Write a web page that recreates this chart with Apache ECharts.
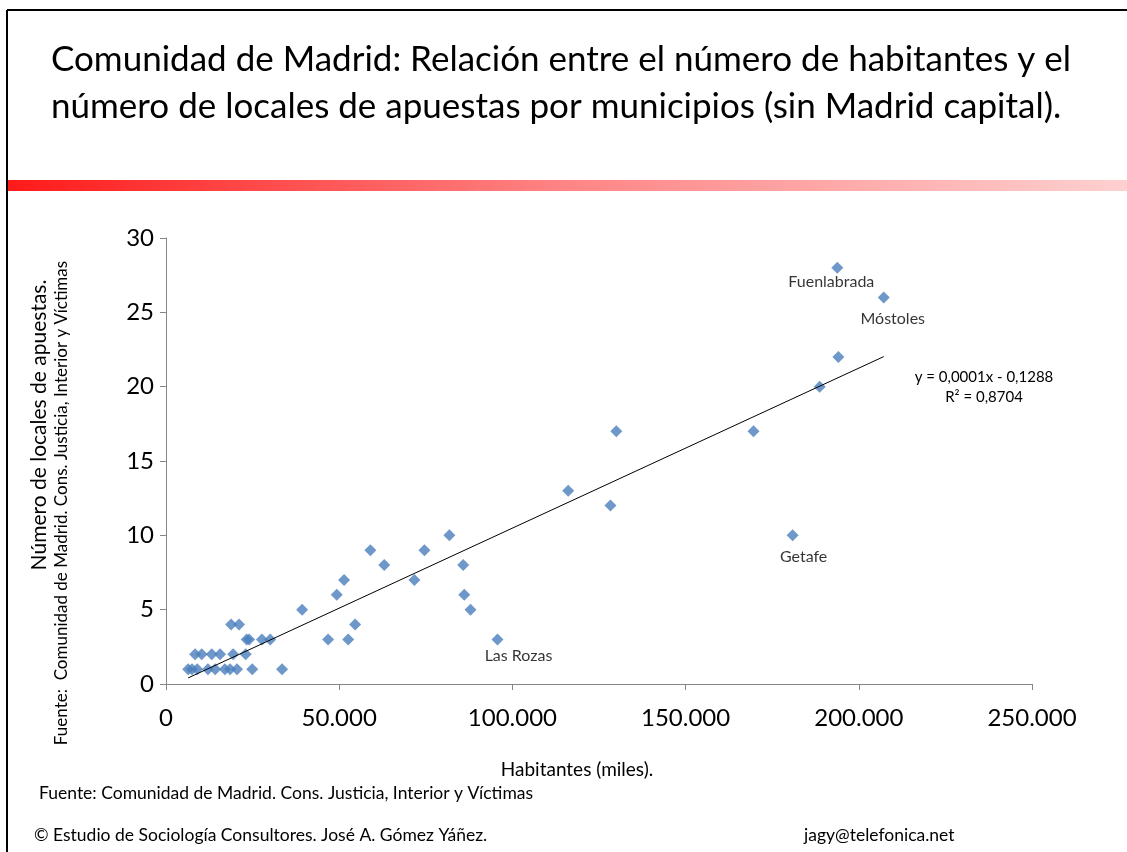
<!doctype html>
<html lang="es">
<head>
    <meta charset="UTF-8">
    <script src="https://cdn.jsdelivr.net/npm/echarts@6/dist/echarts.min.js"></script>
    <title>Locales de apuestas - Comunidad de Madrid</title>
    <style>
        html, body { margin: 0; padding: 0; background: #fff; }
    </style>
</head>
<body>
<div id="main" style="width: 1127px;height:852px;"></div>
<script>
    // habitantes y locales de apuestas por municipio
    var habitantes = [6400, 7500, 9000, 12100, 14200, 17000, 18500, 20500, 24900, 33500,
        8400, 10300, 13200, 15600, 19400, 23000,
        23300, 24000, 27700, 30100, 46800, 52600,
        18800, 21100, 54600,
        39300, 87900,
        49300, 86100,
        51400, 71700,
        63000, 85800,
        59000, 74600,
        81800,
        128300, 116100,
        130000, 169600,
        188700, 194100];
    var locales = [1, 1, 1, 1, 1, 1, 1, 1, 1, 1,
        2, 2, 2, 2, 2, 2,
        3, 3, 3, 3, 3, 3,
        4, 4, 4,
        5, 5,
        6, 6,
        7, 7,
        8, 8,
        9, 9,
        10,
        12, 13,
        17, 17,
        20, 22];

    // municipios con etiqueta
    var nombres = ['Fuenlabrada', 'Móstoles', 'Getafe', 'Las Rozas'];
    var habNombres = [193800, 207200, 180900, 95700];
    var locNombres = [28, 26, 10, 3];

    var xTicks = [0, 50000, 100000, 150000, 200000, 250000];
    var yTicks = [0, 5, 10, 15, 20, 25, 30];

    var FONT = 'Lato';

    function miles(v) {
        return String(v).replace(/\B(?=(\d{3})+(?!\d))/g, '.');
    }

    // recta de regresion a partir de los datos
    var allX = habitantes.concat(habNombres);
    var allY = locales.concat(locNombres);
    var n = allX.length, sx = 0, sy = 0, sxx = 0, sxy = 0;
    for (var i = 0; i < n; i++) {
        sx += allX[i]; sy += allY[i];
        sxx += allX[i] * allX[i]; sxy += allX[i] * allY[i];
    }
    var pend = (n * sxy - sx * sy) / (n * sxx - sx * sx);
    var orig = (sy - pend * sx) / n;
    var xmin = Math.min.apply(null, allX), xmax = Math.max.apply(null, allX);

    var puntos = [];
    for (var j = 0; j < habitantes.length; j++) {
        puntos.push([habitantes[j], locales[j]]);
    }
    var offsets = {
        'Fuenlabrada': [-6, -5],
        'Móstoles': [9, 2],
        'Getafe': [11, 3],
        'Las Rozas': [21, -3]
    };
    for (var k = 0; k < nombres.length; k++) {
        puntos.push({
            name: nombres[k],
            value: [habNombres[k], locNombres[k]],
            label: {
                show: true,
                position: 'bottom',
                offset: offsets[nombres[k]],
                formatter: '{b}',
                color: '#000',
                fontFamily: FONT,
                fontSize: 16
            }
        });
    }

    var myChart = echarts.init(document.getElementById('main'));
    var option = {
        backgroundColor: '#fff',
        animation: false,
        textStyle: {fontFamily: FONT},
        title: {
            text: 'Comunidad de Madrid: Relación entre el número de habitantes y el\nnúmero de locales de apuestas por municipios (sin Madrid capital).',
            left: 46,
            top: 31,
            textStyle: {
                fontFamily: FONT,
                fontSize: 35,
                fontWeight: 'normal',
                color: '#000',
                lineHeight: 47
            }
        },
        grid: {
            left: 166,
            right: 95,
            top: 238,
            bottom: 168
        },
        xAxis: {
            type: 'value',
            min: xTicks[0],
            max: xTicks[xTicks.length - 1],
            interval: 50000,
            splitLine: {show: false},
            axisLine: {lineStyle: {color: '#868686', width: 1}},
            axisTick: {show: true, length: 6, lineStyle: {color: '#868686'}},
            axisLabel: {
                color: '#000',
                fontSize: 24,
                fontFamily: FONT,
                margin: 22,
                formatter: function (v) { return miles(v); }
            }
        },
        yAxis: {
            type: 'value',
            min: yTicks[0],
            max: yTicks[yTicks.length - 1],
            interval: 5,
            splitLine: {show: false},
            axisLine: {show: true, lineStyle: {color: '#868686', width: 1}},
            axisTick: {show: true, length: 6, lineStyle: {color: '#868686'}},
            axisLabel: {
                color: '#000',
                fontSize: 24,
                fontFamily: FONT,
                margin: 12
            }
        },
        graphic: [
            {
                type: 'line',
                shape: {x1: 7, y1: 10, x2: 1127, y2: 10},
                style: {stroke: '#000', lineWidth: 2}
            },
            {
                type: 'line',
                shape: {x1: 7, y1: 10, x2: 7, y2: 852},
                style: {stroke: '#000', lineWidth: 2}
            },
            {
                type: 'rect',
                shape: {x: 8, y: 180, width: 1119, height: 11},
                style: {
                    fill: new echarts.graphic.LinearGradient(0, 0, 1, 0, [
                        {offset: 0, color: '#ff1a1a'},
                        {offset: 0.5, color: '#ff8585'},
                        {offset: 1, color: '#ffd0d0'}
                    ])
                }
            },
            {
                type: 'text',
                x: 39, y: 425,
                rotation: Math.PI / 2,
                style: {
                    text: 'Número de locales de apuestas.',
                    fontFamily: FONT, fontSize: 21, fill: '#000',
                    align: 'center', verticalAlign: 'middle'
                }
            },
            {
                type: 'text',
                x: 62, y: 503,
                rotation: Math.PI / 2,
                style: {
                    text: 'Fuente:  Comunidad de Madrid. Cons. Justicia, Interior y Víctimas',
                    fontFamily: FONT, fontSize: 17, fill: '#000',
                    align: 'center', verticalAlign: 'middle'
                }
            },
            {
                type: 'text',
                x: 577, y: 770,
                style: {
                    text: 'Habitantes (miles).',
                    fontFamily: FONT, fontSize: 19, fill: '#000',
                    align: 'center', verticalAlign: 'middle'
                }
            },
            {
                type: 'text',
                x: 984, y: 377,
                style: {
                    text: 'y = 0,0001x - 0,1288',
                    fontFamily: FONT, fontSize: 15, fill: '#000',
                    align: 'center', verticalAlign: 'middle'
                }
            },
            {
                type: 'text',
                x: 984, y: 397,
                style: {
                    text: 'R² = 0,8704',
                    fontFamily: FONT, fontSize: 15, fill: '#000',
                    align: 'center', verticalAlign: 'middle'
                }
            },
            {
                type: 'text',
                x: 39, y: 793,
                style: {
                    text: 'Fuente: Comunidad de Madrid. Cons. Justicia, Interior y Víctimas',
                    fontFamily: FONT, fontSize: 17.5, fill: '#000',
                    verticalAlign: 'middle'
                }
            },
            {
                type: 'text',
                x: 34, y: 835,
                style: {
                    text: '© Estudio de Sociología Consultores. José A. Gómez Yáñez.',
                    fontFamily: FONT, fontSize: 17.5, fill: '#000',
                    verticalAlign: 'middle'
                }
            },
            {
                type: 'text',
                x: 804, y: 835,
                style: {
                    text: 'jagy@telefonica.net',
                    fontFamily: FONT, fontSize: 17.5, fill: '#000',
                    verticalAlign: 'middle'
                }
            }
        ],
        series: [
            {
                name: 'Locales',
                type: 'scatter',
                symbol: 'diamond',
                symbolSize: 12,
                itemStyle: {color: '#4a7ebb'},
                data: puntos,
                z: 2
            },
            {
                name: 'Lineal',
                type: 'line',
                showSymbol: false,
                symbol: 'none',
                lineStyle: {color: '#000', width: 1},
                data: [[xmin, pend * xmin + orig], [xmax, pend * xmax + orig]],
                z: 3
            }
        ]
    };
    myChart.setOption(option);
</script>
</body>
</html>
